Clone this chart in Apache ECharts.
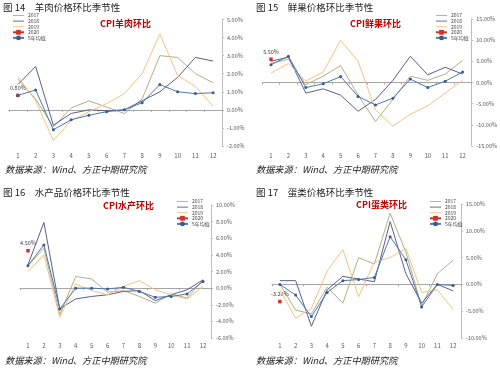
<!DOCTYPE html>
<html><head><meta charset="utf-8">
<script src="https://cdn.jsdelivr.net/npm/echarts@6/dist/echarts.min.js"></script>
<style>html,body{margin:0;padding:0;background:#fff}#c{width:500px;height:371px}</style>
</head><body><div id="c"></div>
<script>
const months = ['1','2','3','4','5','6','7','8','9','10','11','12'];
const seriesNames = ['2017','2018','2019','2020','5年均值'];

const mutton2017 = [1.7, 0.6, -0.95, 0.1, 0.5, 0.15, -0.2, 0.6, 3.0, 2.9, 2.0, 1.5];
const mutton2018 = [1.4, 2.4, -0.85, -0.2, 0.0, -0.05, 0.0, 0.5, 1.0, 1.8, 2.9, 2.7];
const mutton2019 = [1.85, 0.5, -1.7, -0.6, -0.1, 0.35, 0.9, 2.0, 4.2, 1.9, 1.3, 0.2];
const mutton2020 = [0.8, null, null, null, null, null, null, null, null, null, null, null];
const muttonAvg  = [0.8, 1.1, -1.1, -0.55, -0.3, -0.1, 0.0, 0.4, 1.4, 1.0, 0.9, 0.95];

const fruit2017 = [4.5, 5.5, -0.5, 1.5, 4.0, -3.0, -9.2, -4.0, 1.5, 0.5, 2.0, 5.2];
const fruit2018 = [5.0, 6.0, -2.5, -1.5, -3.0, -6.8, -4.0, 0.5, 6.2, 1.8, 3.6, 2.0];
const fruit2019 = [2.2, 4.5, 0.3, 2.5, 10.0, 5.0, -6.5, -10.3, -7.5, -5.5, -2.5, 0.5];
const fruit2020 = [5.5, null, null, null, null, null, null, null, null, null, null, null];
const fruitAvg  = [4.2, 6.2, -1.2, -0.3, 1.4, -3.3, -5.3, -3.7, 0.8, -1.2, 0.3, 2.5];

const aqua2017 = [2.7, 4.8, -3.2, 1.4, 1.1, -0.5, -0.3, -1.0, -1.8, -0.7, -1.2, 1.0];
const aqua2018 = [2.8, 7.9, -2.5, -1.3, -1.0, -0.8, -0.4, -0.3, -1.5, -0.8, -0.2, 1.0];
const aqua2019 = [2.0, 4.0, -3.5, 0.5, -0.3, -0.8, 0.2, 0.9, -0.2, -0.8, -1.3, 0.2];
const aqua2020 = [4.5, null, null, null, null, null, null, null, null, null, null, null];
const aquaAvg  = [2.7, 5.2, -2.5, 0.0, 0.0, -0.1, 0.1, -0.4, -1.1, -1.0, -0.7, 0.8];

const egg2017 = [0.0, -4.8, -5.5, -0.5, -3.5, 5.0, 3.8, 13.3, 6.0, -4.0, 2.0, 4.5];
const egg2018 = [0.7, 0.7, -7.8, -1.0, 1.5, 1.0, 0.5, 11.7, 2.0, -3.5, 0.0, -1.2];
const egg2019 = [-1.0, -6.3, -4.5, 2.5, 6.5, -2.3, 4.2, 5.0, 6.7, -1.5, -1.0, -4.7];
const egg2020 = [-3.2, null, null, null, null, null, null, null, null, null, null, null];
const eggAvg  = [0.0, -2.0, -6.0, -1.5, 0.7, 0.9, 1.3, 8.9, 4.6, -4.2, 0.0, -0.2];

const yMins = [-2, -15, -6, -10];
const yMaxs = [5, 15, 10, 15];
const yIntervals = [1, 5, 2, 5];
const figTitles = ['图 14　羊肉价格环比季节性', '图 15　鲜果价格环比季节性', '图 16　水产品价格环比季节性', '图 17　蛋类价格环比季节性'];
const cpiTitles = ['CPI羊肉环比', 'CPI鲜果环比', 'CPI水产环比', 'CPI蛋类环比'];
const sourceText = '数据来源：Wind、方正中期研究院';

const panelData = [
  [mutton2017, mutton2018, mutton2019, mutton2020, muttonAvg],
  [fruit2017, fruit2018, fruit2019, fruit2020, fruitAvg],
  [aqua2017, aqua2018, aqua2019, aqua2020, aquaAvg],
  [egg2017, egg2018, egg2019, egg2020, eggAvg]
];

const FONT = '"Noto Sans CJK SC", "Noto Sans", sans-serif';
const colors = ['#B3AF86', '#5B5E92', '#F4C283', '#D0312D', '#4E79B0'];
const LINE_ICON = 'path://M0,0 L24,0 L24,2 L0,2 Z';

const layout = [
  {grid:{left:9, top:19.5, width:213, height:126.5}, legend:{left:12, top:13}, title:[3,7], cpi:[100,24], src:[5,170]},
  {grid:{left:262.3, top:19, width:209.4, height:127}, legend:{left:435, top:13}, title:[256,7], cpi:[350,24], src:[256,170]},
  {grid:{left:20, top:205, width:191, height:133}, legend:{left:176, top:199}, title:[3,192], cpi:[103,206], src:[5,361]},
  {grid:{left:272, top:204, width:189, height:134}, legend:{left:429, top:199}, title:[256,192], cpi:[356,205], src:[256,361]}
];

const grids = [], xAxes = [], yAxes = [], series = [], legends = [], graphics = [];
layout.forEach((L, i) => {
  grids.push(L.grid);
  xAxes.push({type:'category', gridIndex:i, data:months, boundaryGap:true, position:'bottom',
    axisLine:{show:true, onZero:true, lineStyle:{color:'#A6A6A6', width:1}},
    axisTick:{show:true, length:2, lineStyle:{color:'#A6A6A6'}},
    axisLabel:{show:false}, splitLine:{show:false}});
  xAxes.push({type:'category', gridIndex:i, data:months, boundaryGap:true, position:'bottom',
    axisLine:{show:false, onZero:false}, axisTick:{show:false},
    axisLabel:{show:true, fontSize:6, color:'#595959', fontFamily:FONT, margin:i<2?7:5}, splitLine:{show:false}});
  yAxes.push({type:'value', gridIndex:i, position:'right', min:yMins[i], max:yMaxs[i], interval:yIntervals[i],
    axisLine:{show:true, lineStyle:{color:'#BFBFBF'}},
    axisTick:{show:true, length:2, lineStyle:{color:'#BFBFBF'}},
    axisLabel:{fontSize:5.5, color:'#595959', fontFamily:FONT, margin:5, formatter:v=>v.toFixed(2)+'%'},
    splitLine:{show:false}});
  panelData[i].forEach((arr, k) => {
    const s = {name:seriesNames[k], type:'line', xAxisIndex:i*2, yAxisIndex:i, data:arr,
      color:colors[k], lineStyle:{width:1, color:colors[k]}, symbol:'none', animation:false, z:2+k};
    if (k === 3) {
      s.symbol = 'rect'; s.symbolSize = 3.5; s.showSymbol = true; s.z = 3;
      s.itemStyle = {color:colors[3]};
      s.label = {show:true, position:'top', distance:3, fontSize:5.5, color:'#404040', fontFamily:FONT,
        formatter:p=>p.value==null?'':p.value.toFixed(2)+'%'};
    }
    if (k === 4) {
      s.symbol = 'circle'; s.symbolSize = 3; s.showSymbol = true;
      s.itemStyle = {color:'#3C5A8C'}; s.z = 6;
    }
    series.push(s);
  });
  legends.push({orient:'vertical', left:L.legend.left, top:L.legend.top,
    data:seriesNames.map((n, k) => k < 3 ? {name:n, icon:LINE_ICON} : {name:n}),
    itemWidth:11, itemHeight:6, itemGap:0.6, padding:0, selectedMode:false,
    textStyle:{fontSize:5, color:'#404040', fontFamily:FONT, padding:[0,0,0,-1]}});
  graphics.push({type:'text', x:L.title[0], y:L.title[1], style:{text:figTitles[i], font:'9.5px '+FONT, fill:'#222', verticalAlign:'middle'}});
  graphics.push({type:'text', x:L.cpi[0], y:L.cpi[1], style:{text:cpiTitles[i], font:'bold 9px '+FONT, fill:'#C00000', verticalAlign:'middle'}});
  graphics.push({type:'text', x:L.src[0], y:L.src[1], style:{text:sourceText, font:'italic 9.2px '+FONT, fill:'#222', verticalAlign:'middle'}});
});

const chart = echarts.init(document.getElementById('c'), null, {renderer:'canvas'});
chart.setOption({
  animation:false,
  backgroundColor:'#fff',
  grid:grids, xAxis:xAxes, yAxis:yAxes, series:series, legend:legends, graphic:graphics
});
</script></body></html>
